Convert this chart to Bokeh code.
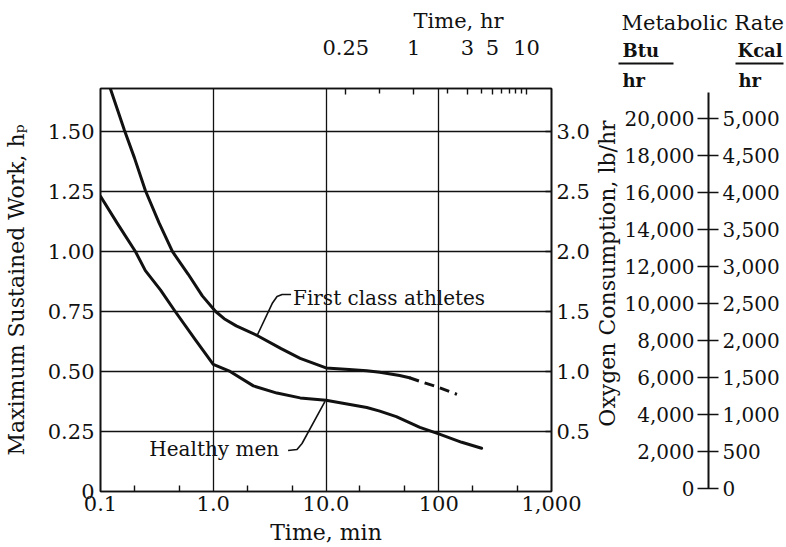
import math
from bokeh.plotting import figure
from bokeh.models import FixedTicker, LinearAxis, LogAxis, Range1d
from bokeh.layouts import row, column
from bokeh.embed import file_html
from bokeh.resources import INLINE
from bokeh.core.properties import value

FONT = "DejaVu Serif"
INK = "#111111"

# ---------------- data ----------------
# First class athletes: time (min) vs maximum sustained work (hp)
athletes_time = [0.122, 0.163, 0.2, 0.25, 0.33, 0.434, 0.6, 0.8, 1.05, 1.25, 1.6, 2.45, 4.0, 5.9, 10, 16, 23, 30, 45, 55]
athletes_hp = [1.68, 1.505, 1.39, 1.254, 1.12, 1.0, 0.905, 0.815, 0.75, 0.72, 0.69, 0.65, 0.595, 0.555, 0.515, 0.508, 0.503, 0.497, 0.483, 0.474]
# extrapolated (dashed) part
athletes_ext_time = [55, 72, 98, 145]
athletes_ext_hp = [0.474, 0.455, 0.435, 0.405]
# Healthy men
healthy_time = [0.1, 0.141, 0.204, 0.25, 0.34, 0.46, 0.7, 1.0, 1.41, 2.27, 3.67, 5.9, 10, 23, 30, 42, 68, 100, 160, 240]
healthy_hp = [1.23, 1.117, 1.0, 0.92, 0.84, 0.75, 0.63, 0.53, 0.5, 0.44, 0.41, 0.39, 0.38, 0.35, 0.335, 0.312, 0.267, 0.24, 0.205, 0.18]

# axes
x_ticks_min = [0.1, 1, 10, 100, 1000]
x_tick_labels = ["0.1", "1.0", "10.0", "100", "1,000"]
x_minor_min = [0.2, 0.5, 2, 5, 20, 50, 200, 500]
y_ticks_hp = [0, 0.25, 0.5, 0.75, 1.0, 1.25, 1.5]
y_tick_labels = ["0", "0.25", "0.50", "0.75", "1.00", "1.25", "1.50"]
Y_MAX_HP = 1.679
OXY_PER_HP = 2.0
oxy_ticks = [0.5, 1.0, 1.5, 2.0, 2.5, 3.0]
oxy_labels = ["0.5", "1.0", "1.5", "2.0", "2.5", "3.0"]
hr_ticks = [0.25, 1, 3, 5, 10]
hr_labels = ["0.25", "1", "3", "5", "10"]
hr_minor = [0.5, 2, 4, 6, 7, 8, 9]
MIN_PER_HR = 60

# metabolic rate scale
btu_ticks = [0, 2000, 4000, 6000, 8000, 10000, 12000, 14000, 16000, 18000, 20000]
kcal_ticks = [0, 500, 1000, 1500, 2000, 2500, 3000, 3500, 4000, 4500, 5000]
BTU_PER_KCAL = 4
BTU_SCALE_TOP = 21400

# annotations (leader lines)
lead_athletes_time = [2.45, 3.33, 3.68, 4.08, 4.9]
lead_athletes_hp = [0.65, 0.783, 0.8125, 0.821, 0.821]
label_athletes = ("First class athletes", 5.1, 0.808)
lead_healthy_time = [4.61, 5.53, 6.13, 9.8]
lead_healthy_hp = [0.171, 0.175, 0.2, 0.375]
label_healthy = ("Healthy men", 3.84, 0.175)

# ---------------- layout sizes ----------------
H = 547
W1 = 592
W2 = 786 - W1
BORDER_TOP = 88
BORDER_BOTTOM = 56

# ---------------- main figure ----------------
p = figure(width=W1, height=H, x_axis_type="log",
           x_range=Range1d(0.1, 1000), y_range=Range1d(0, Y_MAX_HP),
           output_backend="svg", toolbar_location=None,
           min_border_left=100, min_border_right=W1 - 553,
           min_border_top=BORDER_TOP, min_border_bottom=BORDER_BOTTOM)
p.background_fill_color = "white"
p.border_fill_color = "white"
p.outline_line_color = INK
p.outline_line_width = 1.6

# title used as the top-axis caption "Time, hr"
p.title.text = "Time, hr"
p.title.align = "left"
p.title.offset = 313
p.title.standoff = 8
p.title.text_font = FONT
p.title.text_font_size = "21px"
p.title.text_font_style = "normal"
p.title.text_color = INK

def style_axis(ax, size="21px"):
    ax.major_label_text_font = FONT
    ax.major_label_text_font_size = size
    ax.major_label_text_color = INK
    ax.axis_label_text_font = FONT
    ax.axis_label_text_font_size = "22px"
    ax.axis_label_text_font_style = "normal"
    ax.axis_label_text_color = INK
    ax.axis_line_color = INK
    ax.axis_line_width = 1.6
    ax.major_tick_line_color = INK
    ax.minor_tick_line_color = INK
    ax.major_tick_line_width = 1.4
    ax.minor_tick_line_width = 1.4

# bottom axis
xa = p.xaxis[0]
xa.ticker = FixedTicker(ticks=x_ticks_min, minor_ticks=x_minor_min)
xa.major_label_overrides = {t: s for t, s in zip(x_ticks_min, x_tick_labels)}
style_axis(xa)
xa.major_tick_in = 0
xa.major_tick_out = 0
xa.minor_tick_in = 6
xa.minor_tick_out = 0
xa.major_label_standoff = 4
xa.axis_label = "Time, min"
xa.axis_label_standoff = 6

# left axis
ya = p.yaxis[0]
ya.ticker = FixedTicker(ticks=y_ticks_hp, minor_ticks=[])
ya.major_label_overrides = {t: s for t, s in zip(y_ticks_hp, y_tick_labels)}
style_axis(ya)
ya.major_tick_in = 0
ya.major_tick_out = 0
ya.major_label_standoff = 6
ya.axis_label = "Maximum Sustained Work, h\u209a"
ya.axis_label_standoff = 16

# grid
p.xgrid.ticker = FixedTicker(ticks=x_ticks_min)
p.ygrid.ticker = FixedTicker(ticks=y_ticks_hp)
for g in (p.xgrid[0], p.ygrid[0]):
    g.grid_line_color = INK
    g.grid_line_width = 1.3
    g.grid_line_alpha = 1.0

# right axis: oxygen consumption (its title is drawn in the side panel)
p.extra_y_ranges = {"oxy": Range1d(0, Y_MAX_HP * OXY_PER_HP)}
ra = LinearAxis(y_range_name="oxy", ticker=FixedTicker(ticks=oxy_ticks, minor_ticks=[]))
ra.major_label_overrides = {t: s for t, s in zip(oxy_ticks, oxy_labels)}
style_axis(ra)
ra.major_tick_in = 6
ra.major_tick_out = 0
ra.major_label_standoff = 5
p.add_layout(ra, "right")

# top axis: time in hours (positions in minutes on the same scale)
ta = LogAxis(ticker=FixedTicker(ticks=[h * MIN_PER_HR for h in hr_ticks],
                                minor_ticks=[h * MIN_PER_HR for h in hr_minor]))
ta.major_label_overrides = {h * MIN_PER_HR: s for h, s in zip(hr_ticks, hr_labels)}
style_axis(ta)
ta.major_tick_in = 6
ta.major_tick_out = 0
ta.minor_tick_in = 5
ta.minor_tick_out = 0
ta.major_label_standoff = 34
p.add_layout(ta, "above")

# curves
p.line(athletes_time, athletes_hp, line_color=INK, line_width=3, line_join="round", line_cap="round")
p.line(athletes_ext_time, athletes_ext_hp, line_color=INK, line_width=3, line_dash="10 6")
p.line(healthy_time, healthy_hp, line_color=INK, line_width=3, line_join="round", line_cap="round")

# leader lines and labels
p.line(lead_athletes_time, lead_athletes_hp, line_color=INK, line_width=1.6, line_join="round")
p.line(lead_healthy_time, lead_healthy_hp, line_color=INK, line_width=1.6, line_join="round")
p.text(x=[label_athletes[1]], y=[label_athletes[2]], text=[label_athletes[0]],
       text_font=value(FONT), text_font_size=value("20px"), text_color=INK,
       text_align="left", text_baseline="middle")
p.text(x=[label_healthy[1]], y=[label_healthy[2]], text=[label_healthy[0]],
       text_font=value(FONT), text_font_size=value("20px"), text_color=INK,
       text_align="right", text_baseline="middle")

# ---------------- side panel: oxygen title + metabolic rate scale ----------------
# x: page columns; y: Btu/hr (0 at row 488, 20,000 at row 118); "px" range = page rows
BTU_PX_PER_UNIT = 370.0 / 20000
btu_lo = -(H - 488) / BTU_PX_PER_UNIT
btu_hi = 488 / BTU_PX_PER_UNIT
m = figure(width=W2, height=H, x_range=Range1d(W1, W1 + W2), y_range=Range1d(btu_lo, btu_hi),
           x_axis_type=None, y_axis_type=None, output_backend="svg",
           toolbar_location=None, min_border=0, min_border_left=0, min_border_right=0,
           min_border_top=0, min_border_bottom=0, outline_line_color=None)
m.background_fill_color = "white"
m.border_fill_color = "white"
m.extra_y_ranges = {"px": Range1d(H, 0)}

# oxygen consumption axis title (rotated, reads bottom-to-top)
m.text(x=[607], y=[273], text=["Oxygen Consumption, lb/hr"], y_range_name="px", angle=math.pi / 2,
       text_font=value(FONT), text_font_size=value("22px"), text_color=INK,
       text_align="center", text_baseline="middle")

AX = 708
m.segment(x0=[AX], y0=[btu_ticks[0]], x1=[AX], y1=[BTU_SCALE_TOP], line_color=INK, line_width=2)
m.segment(x0=AX - 11, x1=AX + 10, y0=btu_ticks, y1=btu_ticks, line_color=INK, line_width=1.6)
m.text(x=AX - 14, y=btu_ticks, text=[f"{v:,}" for v in btu_ticks],
       text_font=value(FONT), text_font_size=value("20px"), text_color=INK,
       text_align="right", text_baseline="middle")
m.text(x=AX + 14, y=[k * BTU_PER_KCAL for k in kcal_ticks], text=[f"{k:,}" for k in kcal_ticks],
       text_font=value(FONT), text_font_size=value("20px"), text_color=INK,
       text_align="left", text_baseline="middle")

# header: Metabolic Rate, Btu/hr and Kcal/hr
m.text(x=[621], y=[22], text=["Metabolic Rate"], y_range_name="px",
       text_font=value(FONT), text_font_size=value("21px"), text_color=INK,
       text_align="left", text_baseline="middle")
m.text(x=[622, 737, 622, 738], y=[50, 50, 80, 80], text=["Btu", "Kcal", "hr", "hr"], y_range_name="px",
       text_font=value(FONT), text_font_size=value("18px"), text_font_style="bold",
       text_color=INK, text_align="left", text_baseline="middle")
m.segment(x0=[618, 735], x1=[673, 783], y0=[63, 63], y1=[63, 63], y_range_name="px",
          line_color=INK, line_width=2)

layout = row(p, column(m))
open("out.html", "w").write(file_html(layout, INLINE))
